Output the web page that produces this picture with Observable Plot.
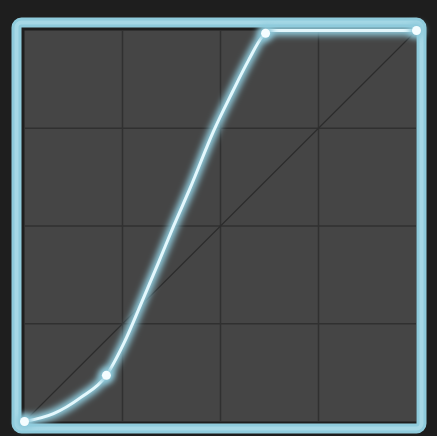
<!DOCTYPE html>
<html>
<head>
<meta charset="utf-8">
<script src="https://cdn.jsdelivr.net/npm/d3@7"></script>
<script src="https://cdn.jsdelivr.net/npm/@observablehq/plot@0.6"></script>
<style>
  body { margin: 0; background: #1e1e1e; }
  #chart { width: 437px; height: 436px; }
</style>
</head>
<body>
<div id="chart"></div>
<script>
// curve (input -> output, 0..1)
const curveX = [0, 0.074, 0.143, 0.209, 0.253, 0.304, 0.342, 0.380, 0.423, 0.482, 0.531, 0.571, 0.607, 0.622, 1]
const curveY = [0, 0.020, 0.061, 0.118, 0.199, 0.317, 0.407, 0.499, 0.598, 0.742, 0.844, 0.923, 0.985, 1, 1]

// control points on the curve
const knotX = [0, 0.209, 0.615, 1]
const knotY = [0, 0.118, 0.993, 1]

// identity diagonal and grid
const diagX = [0, 1]
const diagY = [0, 1]
const gridTicks = [0.25, 0.5, 0.75]

const curve = curveX.map((x, i) => ({x, y: curveY[i]}))
const knots = knotX.map((x, i) => ({x, y: knotY[i]}))
const diag = diagX.map((x, i) => ({x, y: diagY[i]}))

const glow = '#8fcbdc'
const border = {insetLeft: -8, insetTop: -8, insetRight: -5, insetBottom: -7, rx: 5}

let chart = Plot.plot({
  width: 437,
  height: 436,
  marginLeft: 24,
  marginRight: 21,
  marginTop: 30,
  marginBottom: 15,
  style: { background: '#1e1e1e' },
  x: { domain: [0, 1], axis: null },
  y: { domain: [0, 1], axis: null },
  marks: [
    Plot.frame({ fill: '#454545' }),
    Plot.ruleX(gridTicks, { stroke: '#303030', strokeWidth: 1.5 }),
    Plot.ruleY(gridTicks, { stroke: '#303030', strokeWidth: 1.5 }),
    Plot.line(diag, { x: 'x', y: 'y', stroke: '#2c2c2c', strokeWidth: 1.2 }),
    // outer glowing border
    Plot.frame({ stroke: glow, strokeWidth: 10, ...border }),
    Plot.frame({ stroke: '#a6d8e6', strokeWidth: 4, ...border }),
    // the curve
    Plot.line(curve, { x: 'x', y: 'y', curve: 'monotone-x', stroke: glow, strokeWidth: 10 }),
    Plot.line(curve, { x: 'x', y: 'y', curve: 'monotone-x', stroke: '#e4f8fd', strokeWidth: 3 }),
    Plot.dot(knots, { x: 'x', y: 'y', r: 8, fill: glow }),
    Plot.dot(knots, { x: 'x', y: 'y', r: 4.5, fill: '#f4fdff' }),
  ],
})

// soft glow on the light blue strokes
const svg = d3.select(chart)
svg.append('defs').append('filter')
    .attr('id', 'glow')
    .attr('x', '-20%').attr('y', '-20%').attr('width', '140%').attr('height', '140%')
  .append('feGaussianBlur')
    .attr('stdDeviation', 3)
svg.selectAll(`g[stroke="${glow}"], g[fill="${glow}"]`).attr('filter', 'url(#glow)')

d3.select('#chart').append(() => chart)
</script>
</body>
</html>
